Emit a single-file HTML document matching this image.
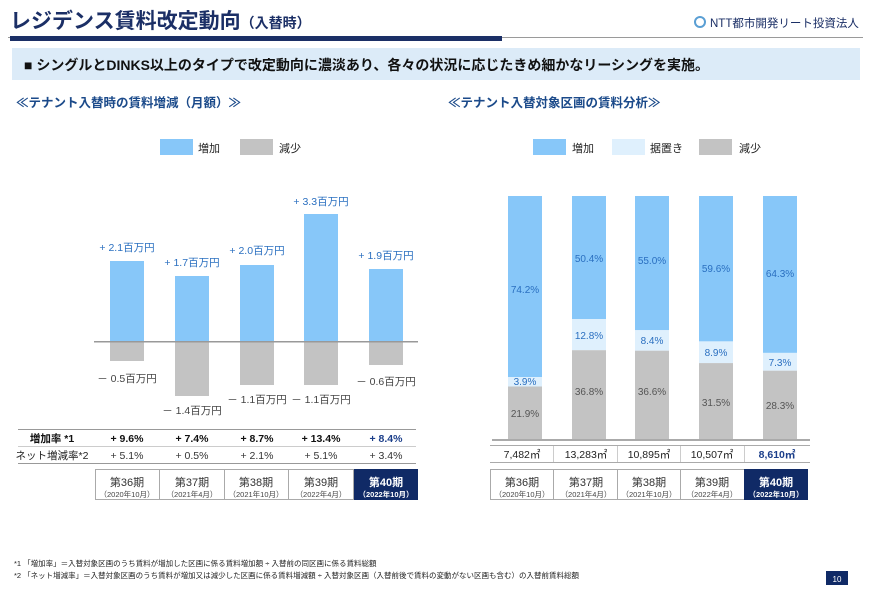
<!DOCTYPE html>
<html><head><meta charset="utf-8"><style>
html,body{margin:0;padding:0;background:#fff;}
svg{display:block;font-family:"Liberation Sans","Noto Sans CJK JP",sans-serif;}
</style></head><body>
<svg width="870" height="594" viewBox="0 0 870 594" xmlns="http://www.w3.org/2000/svg">
<!-- header -->
<text x="10" y="28" font-size="21" font-weight="bold" fill="#1b2f66">レジデンス賃料改定動向<tspan font-size="14">（入替時）</tspan></text>
<circle cx="700" cy="22" r="5" fill="none" stroke="#5a9fd4" stroke-width="2"/>
<text x="710" y="27" font-size="11.5" fill="#1b2f66">NTT都市開発リート投資法人</text>
<rect x="8" y="37" width="855" height="1" fill="#9a9a9a"/>
<rect x="10" y="36" width="492" height="5" fill="#1b2f66"/>
<!-- banner -->
<rect x="12" y="48" width="848" height="32" fill="#dcebf8"/>
<text x="24" y="70" font-size="14" font-weight="bold" fill="#111">■ シングルとDINKS以上のタイプで改定動向に濃淡あり、各々の状況に応じたきめ細かなリーシングを実施。</text>
<text x="16" y="107" font-size="12.5" font-weight="bold" fill="#1b4a8a">≪テナント入替時の賃料増減（月額）≫</text>
<text x="448" y="107" font-size="12.5" font-weight="bold" fill="#1b4a8a">≪テナント入替対象区画の賃料分析≫</text>

<!-- left legend -->
<rect x="160" y="139" width="33" height="16" fill="#87c7f9"/>
<text x="198" y="152" font-size="11" fill="#222">増加</text>
<rect x="240" y="139" width="33" height="16" fill="#c3c3c3"/>
<text x="279" y="152" font-size="11" fill="#222">減少</text>

<!-- left bars -->
<g fill="#87c7f9">
<rect x="110" y="261" width="34" height="81"/>
<rect x="175" y="276" width="34" height="66"/>
<rect x="240" y="265" width="34" height="77"/>
<rect x="304" y="214" width="34" height="128"/>
<rect x="369" y="269" width="34" height="73"/>
</g>
<g fill="#c3c3c3">
<rect x="110" y="342" width="34" height="19"/>
<rect x="175" y="342" width="34" height="54"/>
<rect x="240" y="342" width="34" height="43"/>
<rect x="304" y="342" width="34" height="43"/>
<rect x="369" y="342" width="34" height="23"/>
</g>
<rect x="94" y="341" width="324" height="1.5" fill="#999"/>
<g font-size="10.5" fill="#2a6fc0" text-anchor="middle">
<text x="127" y="251">+ 2.1百万円</text>
<text x="192" y="266">+ 1.7百万円</text>
<text x="257" y="254">+ 2.0百万円</text>
<text x="321" y="205">+ 3.3百万円</text>
<text x="386" y="259">+ 1.9百万円</text>
</g>
<g font-size="10.5" fill="#444" text-anchor="middle">
<text x="127" y="382">－ 0.5百万円</text>
<text x="192" y="414">－ 1.4百万円</text>
<text x="257" y="403">－ 1.1百万円</text>
<text x="321" y="403">－ 1.1百万円</text>
<text x="386" y="385">－ 0.6百万円</text>
</g>
<!-- left table -->
<rect x="18" y="429" width="398" height="1" fill="#999"/>
<rect x="18" y="446" width="398" height="1" fill="#ccc"/>
<rect x="18" y="463" width="398" height="1" fill="#999"/>
<g font-size="10.5" text-anchor="middle">
<text x="52" y="442" font-weight="bold" fill="#111">増加率 *1</text>
<text x="127" y="442" font-weight="bold" fill="#111">+ 9.6%</text>
<text x="192" y="442" font-weight="bold" fill="#111">+ 7.4%</text>
<text x="257" y="442" font-weight="bold" fill="#111">+ 8.7%</text>
<text x="321" y="442" font-weight="bold" fill="#111">+ 13.4%</text>
<text x="386" y="442" font-weight="bold" fill="#1b3e8a">+ 8.4%</text>
<text x="52" y="459" fill="#222">ネット増減率*2</text>
<text x="127" y="459" fill="#333">+ 5.1%</text>
<text x="192" y="459" fill="#333">+ 0.5%</text>
<text x="257" y="459" fill="#333">+ 2.1%</text>
<text x="321" y="459" fill="#333">+ 5.1%</text>
<text x="386" y="459" fill="#333">+ 3.4%</text>
</g>
<!-- left period boxes -->
<g fill="none" stroke="#aaa" stroke-width="1">
<rect x="95.5" y="469.5" width="64" height="30"/>
<rect x="159.5" y="469.5" width="65" height="30"/>
<rect x="224.5" y="469.5" width="64" height="30"/>
<rect x="288.5" y="469.5" width="65" height="30"/>
</g>
<rect x="354" y="469" width="64" height="31" fill="#102a66"/>
<g text-anchor="middle">
<text x="127" y="486" font-size="11" fill="#333">第36期</text><text x="127" y="497" font-size="7.5" fill="#444">（2020年10月）</text>
<text x="192" y="486" font-size="11" fill="#333">第37期</text><text x="192" y="497" font-size="7.5" fill="#444">（2021年4月）</text>
<text x="256" y="486" font-size="11" fill="#333">第38期</text><text x="256" y="497" font-size="7.5" fill="#444">（2021年10月）</text>
<text x="321" y="486" font-size="11" fill="#333">第39期</text><text x="321" y="497" font-size="7.5" fill="#444">（2022年4月）</text>
<text x="386" y="486" font-size="11" font-weight="bold" fill="#fff">第40期</text><text x="386" y="497" font-size="7.5" font-weight="bold" fill="#fff">（2022年10月）</text>
</g>

<!-- right legend -->
<rect x="533" y="139" width="33" height="16" fill="#87c7f9"/>
<text x="572" y="152" font-size="11" fill="#222">増加</text>
<rect x="612" y="139" width="33" height="16" fill="#dff0fd"/>
<text x="650" y="152" font-size="11" fill="#222">据置き</text>
<rect x="699" y="139" width="33" height="16" fill="#c3c3c3"/>
<text x="739" y="152" font-size="11" fill="#222">減少</text>

<!-- right stacked bars (top 196, bottom 440, h 244) -->
<g>
<rect x="508" y="196" width="34" height="181" fill="#87c7f9"/>
<rect x="508" y="377" width="34" height="9.5" fill="#dff0fd"/>
<rect x="508" y="386.5" width="34" height="53.5" fill="#c3c3c3"/>

<rect x="572" y="196" width="34" height="123" fill="#87c7f9"/>
<rect x="572" y="319" width="34" height="31.2" fill="#dff0fd"/>
<rect x="572" y="350.2" width="34" height="89.8" fill="#c3c3c3"/>

<rect x="635" y="196" width="34" height="134.2" fill="#87c7f9"/>
<rect x="635" y="330.2" width="34" height="20.5" fill="#dff0fd"/>
<rect x="635" y="350.7" width="34" height="89.3" fill="#c3c3c3"/>

<rect x="699" y="196" width="34" height="145.4" fill="#87c7f9"/>
<rect x="699" y="341.4" width="34" height="21.7" fill="#dff0fd"/>
<rect x="699" y="363.1" width="34" height="76.9" fill="#c3c3c3"/>

<rect x="763" y="196" width="34" height="156.9" fill="#87c7f9"/>
<rect x="763" y="352.9" width="34" height="17.8" fill="#dff0fd"/>
<rect x="763" y="370.7" width="34" height="69.3" fill="#c3c3c3"/>
</g>
<rect x="492" y="439" width="318" height="2" fill="#aaa"/>
<g font-size="10" text-anchor="middle" fill="#2a6fc0">
<text x="525" y="293">74.2%</text>
<text x="589" y="262">50.4%</text>
<text x="652" y="264">55.0%</text>
<text x="716" y="272">59.6%</text>
<text x="780" y="277">64.3%</text>
<text x="525" y="385">3.9%</text>
<text x="589" y="339">12.8%</text>
<text x="652" y="344">8.4%</text>
<text x="716" y="356">8.9%</text>
<text x="780" y="366">7.3%</text>
</g>
<g font-size="10" text-anchor="middle" fill="#555">
<text x="525" y="417">21.9%</text>
<text x="589" y="395">36.8%</text>
<text x="652" y="395">36.6%</text>
<text x="716" y="406">31.5%</text>
<text x="780" y="409">28.3%</text>
</g>
<!-- right table -->
<rect x="490" y="445" width="320" height="1" fill="#aaa"/>
<rect x="490" y="462" width="320" height="1" fill="#aaa"/>
<g fill="#ccc">
<rect x="553" y="446" width="1" height="16"/><rect x="617" y="446" width="1" height="16"/>
<rect x="680" y="446" width="1" height="16"/><rect x="744" y="446" width="1" height="16"/>
</g>
<g font-size="10.5" text-anchor="middle" fill="#222">
<text x="522" y="458">7,482㎡</text>
<text x="586" y="458">13,283㎡</text>
<text x="649" y="458">10,895㎡</text>
<text x="712" y="458">10,507㎡</text>
<text x="777" y="458" font-weight="bold" fill="#1b3e8a">8,610㎡</text>
</g>
<g fill="none" stroke="#aaa" stroke-width="1">
<rect x="490.5" y="469.5" width="63" height="30"/>
<rect x="553.5" y="469.5" width="64" height="30"/>
<rect x="617.5" y="469.5" width="63" height="30"/>
<rect x="680.5" y="469.5" width="64" height="30"/>
</g>
<rect x="744" y="469" width="64" height="31" fill="#102a66"/>
<g text-anchor="middle">
<text x="522" y="486" font-size="11" fill="#333">第36期</text><text x="522" y="497" font-size="7.5" fill="#444">（2020年10月）</text>
<text x="586" y="486" font-size="11" fill="#333">第37期</text><text x="586" y="497" font-size="7.5" fill="#444">（2021年4月）</text>
<text x="649" y="486" font-size="11" fill="#333">第38期</text><text x="649" y="497" font-size="7.5" fill="#444">（2021年10月）</text>
<text x="712" y="486" font-size="11" fill="#333">第39期</text><text x="712" y="497" font-size="7.5" fill="#444">（2022年4月）</text>
<text x="776" y="486" font-size="11" font-weight="bold" fill="#fff">第40期</text><text x="776" y="497" font-size="7.5" font-weight="bold" fill="#fff">（2022年10月）</text>
</g>

<!-- footnotes -->
<text x="14" y="566" font-size="7.5" fill="#222">*1 「増加率」＝入替対象区画のうち賃料が増加した区画に係る賃料増加額 ÷ 入替前の同区画に係る賃料総額</text>
<text x="14" y="578" font-size="7.5" fill="#222">*2 「ネット増減率」＝入替対象区画のうち賃料が増加又は減少した区画に係る賃料増減額 ÷ 入替対象区画（入替前後で賃料の変動がない区画も含む）の入替前賃料総額</text>
<rect x="826" y="571" width="22" height="14" fill="#102a66"/>
<text x="837" y="582" font-size="8" fill="#fff" text-anchor="middle">10</text>
</svg>
</body></html>
